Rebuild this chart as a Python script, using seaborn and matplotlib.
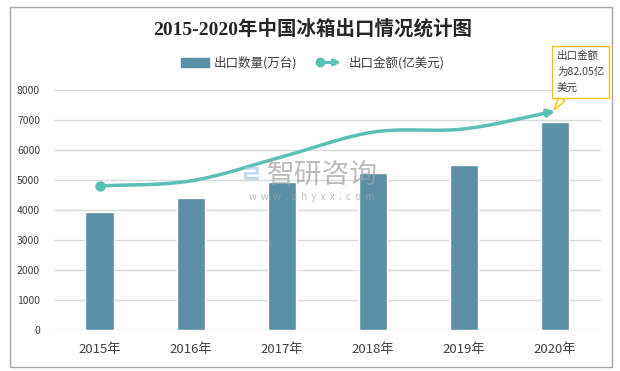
import numpy as np
import pandas as pd
import matplotlib
matplotlib.use("Agg")
import matplotlib.pyplot as plt
import seaborn as sns
from matplotlib.lines import Line2D
from matplotlib.patches import Patch, Rectangle, FancyArrowPatch
from matplotlib.legend_handler import HandlerBase

# data
years = ["2015年", "2016年", "2017年", "2018年", "2019年", "2020年"]
export_qty = [3930, 4400, 4930, 5230, 5500, 6940]        # 万台
export_value = [54.0, 55.9, 64.9, 74.2, 75.4, 82.05]     # 亿美元
y_ticks = [0, 1000, 2000, 3000, 4000, 5000, 6000, 7000, 8000]

BAR_COLOR = "#5B8FA6"
LINE_COLOR = "#5BBFB6"
GRID_COLOR = "#D6DCDC"
TEXT_COLOR = "#404040"

sns.set_theme(style="white")
plt.rcParams["font.family"] = ["Noto Sans CJK SC", "DejaVu Sans"]


def smooth(xs, ys, n=40):
    """Catmull-Rom curve through the points (like Excel's smoothed line)."""
    p = np.column_stack([xs, ys]).astype(float)
    p = np.vstack([2 * p[0] - p[1], p, 2 * p[-1] - p[-2]])
    out = []
    t = np.linspace(0, 1, n)[:, None]
    for i in range(1, len(p) - 2):
        p0, p1, p2, p3 = p[i - 1], p[i], p[i + 1], p[i + 2]
        seg = 0.5 * ((2 * p1) + (-p0 + p2) * t + (2 * p0 - 5 * p1 + 4 * p2 - p3) * t ** 2
                     + (-p0 + 3 * p1 - 3 * p2 + p3) * t ** 3)
        out.append(seg if i == 1 else seg[1:])
    out = np.vstack(out)
    return out[:, 0], out[:, 1]


class LineArrowHandler(HandlerBase):
    def create_artists(self, legend, orig_handle, xdescent, ydescent,
                       width, height, fontsize, trans):
        y = height / 2 - ydescent
        x0, x1 = -xdescent + 3, width - xdescent
        arrow = FancyArrowPatch((x0, y), (x1, y), arrowstyle="-|>", mutation_scale=9,
                                color=LINE_COLOR, lw=2.2, transform=trans)
        dot = Line2D([x0], [y], marker="o", markersize=6, color=LINE_COLOR,
                     linestyle="none", transform=trans)
        return [arrow, dot]


df = pd.DataFrame({"year": years, "qty": export_qty, "value": export_value})

fig = plt.figure(figsize=(6.2, 3.71), dpi=100)
ax = fig.add_axes([0.087, 0.1105, 0.882, 0.647])

sns.barplot(data=df, x="year", y="qty", color=BAR_COLOR, saturation=1,
            width=0.31, ax=ax)

ax.set_ylim(0, 8000)
ax.set_yticks(y_ticks)
ax.set_xlim(-0.5, len(years) - 0.5)
ax.yaxis.grid(True, color=GRID_COLOR, lw=1)
ax.set_axisbelow(True)
for s in ax.spines.values():
    s.set_visible(False)
ax.set_xlabel("")
ax.set_ylabel("")
ax.tick_params(axis="y", labelsize=7.5, colors=TEXT_COLOR, length=0, pad=10)
ax.tick_params(axis="x", labelsize=9.5, colors=TEXT_COLOR, length=0, pad=9)

# value line on a hidden secondary axis
ax2 = ax.twinx()
ax2.set_ylim(0, 90)
ax2.axis("off")
xs, ys = smooth(np.arange(len(years)), export_value)
cut = len(xs) - 6
ax2.plot(xs[:cut], ys[:cut], color=LINE_COLOR, lw=2.5, solid_capstyle="butt")
ax2.annotate("", xy=(xs[-1], ys[-1]), xytext=(xs[cut - 1], ys[cut - 1]),
             arrowprops=dict(arrowstyle="-|>", color=LINE_COLOR, lw=2.5,
                             mutation_scale=11, shrinkA=0, shrinkB=0))
ax2.plot([0], [export_value[0]], marker="o", markersize=6.5, color=LINE_COLOR)

# callout
ax2.annotate("出口金额\n为82.05亿\n美元", xy=(xs[-1] - 0.01, ys[-1] + 0.6),
             xytext=(5.02, 96.6),
             fontsize=7.6, color=TEXT_COLOR, ha="left", va="center", linespacing=1.75,
             annotation_clip=False,
             bbox=dict(boxstyle="square,pad=0.45", fc="white", ec="#FFC000", lw=1),
             arrowprops=dict(arrowstyle="wedge,tail_width=0.7", fc="white",
                             ec="#FFC000", lw=1, shrinkA=0, shrinkB=0))

# watermark
fig.text(0.52, 0.528, "智研咨询", fontsize=20, color="#A0A0A0", alpha=0.7,
         ha="center", va="center")
fig.text(0.502, 0.468, "w  w  w  .  c  h  y  x  x  .  c  o  m", fontsize=7,
         color="#A0A0A0", alpha=0.7, ha="center", va="center")
fig.text(0.405, 0.527, "ㄹ", fontsize=18, color="#A9C8E6", alpha=0.7,
         ha="center", va="center", fontweight="bold")

# title + legend
fig.text(0.505, 0.922, "2015-2020年中国冰箱出口情况统计图", fontsize=14,
         fontweight="bold", color="#262626", ha="center", va="center",
         family=["Liberation Serif", "Noto Sans CJK SC"])
handles = [Patch(color=BAR_COLOR), Line2D([], [], color=LINE_COLOR)]
fig.legend(handles, ["出口数量(万台)", "出口金额(亿美元)"],
           loc="center", bbox_to_anchor=(0.505, 0.83), ncol=2, frameon=False,
           fontsize=9, handlelength=2.2, handleheight=0.7, columnspacing=1.5,
           handletextpad=0.4, labelcolor=TEXT_COLOR,
           handler_map={Line2D: LineArrowHandler()})

# outer frame
fig.patches.append(Rectangle((10 / 620, 1 - 367 / 371), 602 / 620, 360 / 371,
                             transform=fig.transFigure, fill=False,
                             ec="#A6A6A6", lw=1))

fig.savefig("out.png", dpi=100)
